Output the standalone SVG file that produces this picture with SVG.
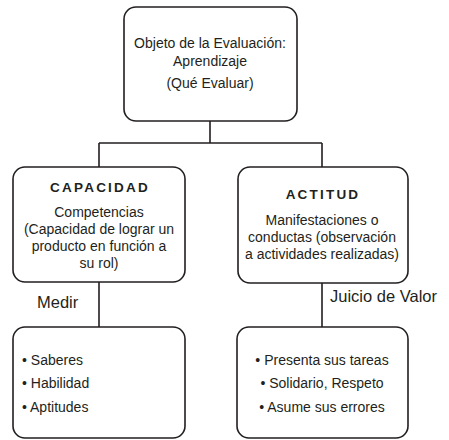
<svg xmlns="http://www.w3.org/2000/svg" width="449" height="440" viewBox="0 0 449 440">
<style>
.box{fill:#fff;stroke:#231f20;stroke-width:1.6}
.ln{stroke:#231f20;stroke-width:1.6;fill:none}
text{font-family:"Liberation Sans","Open Sans",sans-serif;fill:#231f20}
.t{font-size:14px;text-anchor:middle}
.h{font-size:13.5px;font-weight:bold;letter-spacing:2.2px;text-anchor:middle}
.lab{font-size:16.5px}
.b{font-size:14px}
</style>
<rect width="449" height="440" fill="#fff"/>
<g id="connectors">
<path class="ln" d="M210 121V143M99 143H322M99 143V167M322 143V167"/>
<path class="ln" d="M99 282V327M322 283V327"/>
<text class="lab" x="37" y="308">Medir</text>
<text class="lab" x="330" y="302">Juicio de Valor</text>
</g>
<g id="objeto">
<rect class="box" x="124" y="7" width="173" height="114" rx="12"/>
<text class="t" x="210" y="48">Objeto de la Evaluación:</text>
<text class="t" x="210" y="66">Aprendizaje</text>
<text class="t" x="210" y="88">(Qué Evaluar)</text>
</g>
<g id="capacidad">
<rect class="box" x="13" y="167" width="172" height="115" rx="12"/>
<text class="h" x="100" y="192">CAPACIDAD</text>
<text class="t" x="99" y="217">Competencias</text>
<text class="t" x="99" y="234">(Capacidad de lograr un</text>
<text class="t" x="99" y="251">producto en función a</text>
<text class="t" x="99" y="268">su rol)</text>
</g>
<g id="actitud">
<rect class="box" x="238" y="167" width="170" height="116" rx="12"/>
<text class="h" x="323" y="199">ACTITUD</text>
<text class="t" x="322" y="225">Manifestaciones o</text>
<text class="t" x="322" y="242">conductas (observación</text>
<text class="t" x="322" y="259">a actividades realizadas)</text>
</g>
<g id="medir-list">
<rect class="box" x="13" y="327" width="172" height="111" rx="12"/>
<text class="b" x="22" y="365">• Saberes</text>
<text class="b" x="22" y="388">• Habilidad</text>
<text class="b" x="22" y="412">• Aptitudes</text>
</g>
<g id="valor-list">
<rect class="box" x="237" y="327" width="171" height="111" rx="12"/>
<text class="t" x="322" y="365">• Presenta sus tareas</text>
<text class="t" x="322" y="388">• Solidario, Respeto</text>
<text class="t" x="322" y="412">• Asume sus errores</text>
</g>
</svg>
